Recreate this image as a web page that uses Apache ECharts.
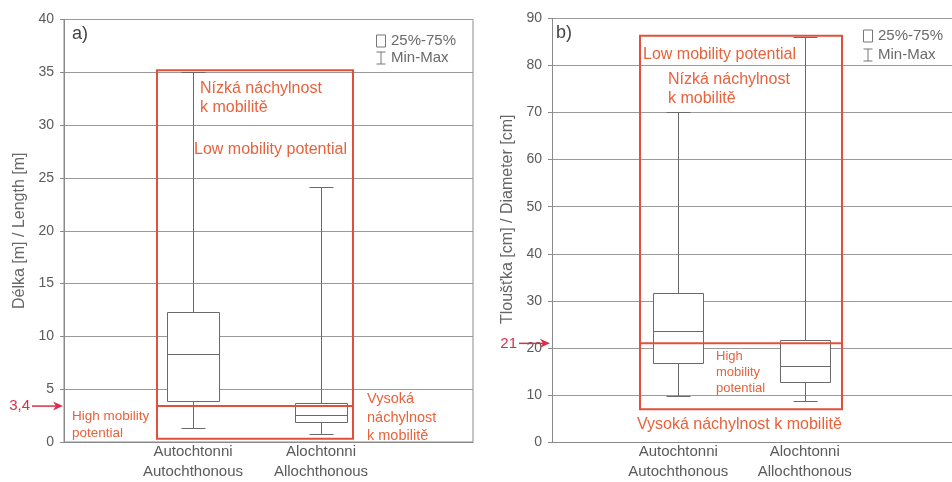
<!DOCTYPE html>
<html><head><meta charset="utf-8">
<script src="https://cdn.jsdelivr.net/npm/echarts@6/dist/echarts.min.js"></script>
<style>html,body{margin:0;padding:0;background:#fff}#c{width:952px;height:482px}</style>
</head><body><div id="c"></div>
<script>
// ---------- DATA ----------
const categories = ['Autochtonni\nAutochthonous', 'Alochtonni\nAllochthonous'];
// [min, Q1, median, Q3, max]
const lengthStats = [[1.0, 3.5, 8.0, 12.0, 35.0], [0.4, 1.5, 2.2, 3.3, 24.0]];
const diameterStats = [[9.0, 16.0, 23.0, 31.0, 70.0], [8.0, 12.0, 15.5, 21.0, 86.0]];
const lengthAxis = { min: 0, max: 40, interval: 5 };
const diameterAxis = { min: 0, max: 90, interval: 10 };
const lengthThreshold = 3.4;
const diameterThreshold = 21;
const lengthThresholdLabel = '3,4';
const diameterThresholdLabel = '21';
const lengthZoneY = [0.3, 35.2];
const diameterZoneY = [7, 86.3];

// ---------- STYLE / LAYOUT ----------
const FONT = '"Liberation Sans", Arial, sans-serif';
const RED = '#e2503c';
const RED_TXT = '#e8623c';
const CRIMSON = '#d8304a';
const BOXC = '#6a6a6a';
const GRIDC = '#9a9a9a';
const FRAMEC = '#8a8a8a';
const L = { left: 64, top: 19.5, width: 409, height: 422.5, innerLeft: 129, innerWidth: 256, zoneX: [0.2274, 0.7066] };
const R = { left: 552, top: 18.3, width: 400, height: 424, innerLeft: 615, innerWidth: 253, zoneX: [0.22, 0.725] };

function boxRender(params, api) {
  const i = api.value(0);
  const v = [1, 2, 3, 4, 5].map(k => api.value(k));
  const band = api.size([1, 0])[0];
  const cx = Math.round(api.coord([i, v[0]])[0]) + 0.5;
  const y = v.map(val => Math.round(api.coord([i, val])[1]) + 0.5);
  const hw = Math.round(band * 0.2), cw = Math.round(band * 0.095);
  const st = { stroke: BOXC, lineWidth: 1 };
  const ln = (x1, y1, x2, y2) => ({ type: 'line', shape: { x1, y1, x2, y2 }, style: st });
  return { type: 'group', children: [
    ln(cx, y[4], cx, y[3]), ln(cx, y[1], cx, y[0]),
    ln(cx - cw, y[4], cx + cw, y[4]), ln(cx - cw, y[0], cx + cw, y[0]),
    { type: 'rect', shape: { x: cx - hw, y: y[3], width: 2 * hw, height: y[1] - y[3] }, style: { stroke: BOXC, fill: '#fff', lineWidth: 1 } },
    ln(cx - hw, y[2], cx + hw, y[2])
  ] };
}
function zoneRender(params, api) {
  const x0 = api.value(0), x1 = api.value(1), yb = api.value(2), yt = api.value(3), th = api.value(4);
  const p0 = api.coord([x0, yt]), p1 = api.coord([x1, yb]), pt = api.coord([x0, th]);
  return { type: 'group', children: [
    { type: 'rect', shape: { x: p0[0], y: p0[1], width: p1[0] - p0[0], height: p1[1] - p0[1] }, style: { fill: null, stroke: RED, lineWidth: 2 } },
    { type: 'line', shape: { x1: p0[0], y1: pt[1], x2: p1[0], y2: pt[1] }, style: { stroke: RED, lineWidth: 2 } }
  ] };
}

function yMain(ax, name, gridIndex, gap, shiftUp) {
  return {
    gridIndex, type: 'value', min: ax.min, max: ax.max, interval: ax.interval,
    name, nameLocation: 'middle', nameGap: gap,
    nameTextStyle: { fontSize: 16, color: '#666', fontFamily: FONT, padding: [0, 0, 0, shiftUp] },
    axisLine: { show: true, lineStyle: { color: FRAMEC } },
    axisTick: { show: true, inside: false, length: 4, lineStyle: { color: FRAMEC } },
    axisLabel: { fontSize: 14, color: '#5a5a5a', margin: 10, fontFamily: FONT },
    splitLine: { show: true, lineStyle: { color: GRIDC, width: 1 } }
  };
}
function yHidden(ax, gridIndex) {
  return { gridIndex, type: 'value', min: ax.min, max: ax.max, interval: ax.interval, show: false, splitLine: { show: false } };
}
function xCat(gridIndex) {
  return {
    gridIndex, type: 'category', data: categories,
    axisLine: { show: false }, axisTick: { show: false }, splitLine: { show: false },
    axisLabel: { fontSize: 15, lineHeight: 20, color: '#5a5a5a', margin: 4, fontFamily: FONT, interval: 0 }
  };
}
function xFrame(gridIndex) {
  return { gridIndex, type: 'value', min: 0, max: 1, show: true,
    axisLine: { show: true, lineStyle: { color: FRAMEC } }, axisTick: { show: false },
    axisLabel: { show: false }, splitLine: { show: false } };
}

const chart = echarts.init(document.getElementById('c'), null, { renderer: 'canvas' });
const option = {
  backgroundColor: '#fff',
  animation: false,
  textStyle: { fontFamily: FONT },
  grid: [
    { left: L.left, top: L.top, width: L.width, height: L.height, show: true, borderColor: FRAMEC, borderWidth: 1 },
    { left: L.innerLeft, top: L.top, width: L.innerWidth, height: L.height },
    { left: R.left, top: R.top, width: R.width, height: R.height, show: false },
    { left: R.innerLeft, top: R.top, width: R.innerWidth, height: R.height }
  ],
  xAxis: [xFrame(0), xCat(1), xFrame(2), xCat(3)],
  yAxis: [
    yMain(lengthAxis, 'Délka [m] / Length [m]', 0, 36, 0), yHidden(lengthAxis, 1),
    yMain(diameterAxis, 'Tloušťka [cm] / Diameter [cm]', 2, 36.5, 22), yHidden(diameterAxis, 3)
  ],
  series: [
    { type: 'custom', name: 'length', xAxisIndex: 1, yAxisIndex: 1, z: 3, renderItem: boxRender,
      encode: { x: 0, y: [1, 2, 3, 4, 5] },
      data: lengthStats.map((s, i) => [i].concat(s)) },
    { type: 'custom', name: 'diameter', xAxisIndex: 3, yAxisIndex: 3, z: 3, renderItem: boxRender,
      encode: { x: 0, y: [1, 2, 3, 4, 5] },
      data: diameterStats.map((s, i) => [i].concat(s)) },
    { type: 'custom', name: 'lengthZone', xAxisIndex: 0, yAxisIndex: 0, z: 4, renderItem: zoneRender,
      encode: { x: [0, 1], y: [2, 3] },
      data: [[L.zoneX[0], L.zoneX[1], lengthZoneY[0], lengthZoneY[1], lengthThreshold]] },
    { type: 'custom', name: 'diameterZone', xAxisIndex: 2, yAxisIndex: 2, z: 4, renderItem: zoneRender,
      encode: { x: [0, 1], y: [2, 3] },
      data: [[R.zoneX[0], R.zoneX[1], diameterZoneY[0], diameterZoneY[1], diameterThreshold]] }
  ]
};
chart.setOption(option);

// ---------- annotations ----------
function txt(text, x, y, fs, color, align) {
  return { type: 'text', x, y, z: 100, style: { text, fontSize: fs, fill: color, fontFamily: FONT, align: align || 'left', verticalAlign: 'middle' } };
}
function arrow(label, labelRight, tipX, y) {
  return [
    txt(label, labelRight, y, 15, CRIMSON, 'right'),
    { type: 'line', z: 100, shape: { x1: labelRight + 2, y1: y, x2: tipX - 6, y2: y }, style: { stroke: CRIMSON, lineWidth: 1.5 } },
    { type: 'polygon', z: 100, shape: { points: [[tipX, y], [tipX - 10, y - 4.5], [tipX - 7, y], [tipX - 10, y + 4.5]] }, style: { fill: CRIMSON } }
  ];
}
function legend(x, y1, y2) {
  return [
    { type: 'rect', z: 100, shape: { x: x - 4.5, y: y1 - 6, width: 9, height: 12 }, style: { fill: null, stroke: '#777', lineWidth: 1 } },
    txt('25%-75%', x + 10, y1, 15, '#6a6a6a'),
    { type: 'line', z: 100, shape: { x1: x, y1: y2 - 6, x2: x, y2: y2 + 6 }, style: { stroke: '#777', lineWidth: 1 } },
    { type: 'line', z: 100, shape: { x1: x - 4.5, y1: y2 - 6, x2: x + 4.5, y2: y2 - 6 }, style: { stroke: '#777', lineWidth: 1 } },
    { type: 'line', z: 100, shape: { x1: x - 4.5, y1: y2 + 6, x2: x + 4.5, y2: y2 + 6 }, style: { stroke: '#777', lineWidth: 1 } },
    txt('Min-Max', x + 10, y2, 15, '#6a6a6a')
  ];
}
const thL = chart.convertToPixel({ yAxisIndex: 0 }, lengthThreshold);
const thR = chart.convertToPixel({ yAxisIndex: 2 }, diameterThreshold);
const graphics = [].concat(
  [txt('a)', 72, 34, 18, '#444'), txt('b)', 556, 33, 18, '#444')],
  legend(381, 41, 58), legend(868, 36, 55),
  [
    txt('Nízká náchylnost', 200, 89, 16, RED_TXT),
    txt('k mobilitě', 200, 108, 16, RED_TXT),
    txt('Low mobility potential', 194, 150, 16, RED_TXT),
    txt('High mobility', 72, 416, 13.5, RED_TXT),
    txt('potential', 72, 433, 13.5, RED_TXT),
    txt('Vysoká', 367, 399, 14.5, RED_TXT),
    txt('náchylnost', 367, 418, 14.5, RED_TXT),
    txt('k mobilitě', 367, 436, 14.5, RED_TXT),
    txt('Low mobility potential', 643, 55, 16, RED_TXT),
    txt('Nízká náchylnost', 668, 80, 16, RED_TXT),
    txt('k mobilitě', 668, 99, 16, RED_TXT),
    txt('High', 716, 356, 13, RED_TXT),
    txt('mobility', 716, 372, 13, RED_TXT),
    txt('potential', 716, 388, 13, RED_TXT),
    txt('Vysoká náchylnost k mobilitě', 637, 425, 16, RED_TXT)
  ],
  arrow(lengthThresholdLabel, 30, 63, thL),
  arrow(diameterThresholdLabel, 517, 550, thR)
);
chart.setOption({ graphic: graphics });
</script>
</body></html>
